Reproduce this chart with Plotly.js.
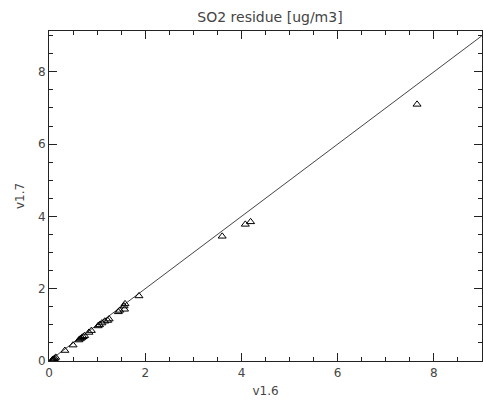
<!DOCTYPE html>
<html>
<head>
<meta charset="utf-8">
<script src="https://cdn.plot.ly/plotly-3.0.1.min.js"></script>
<style>html,body{margin:0;padding:0;background:#fff;}#chart{width:483px;height:404px;}</style>
</head>
<body>
<div id="chart"></div>
<script>
const titleText = "SO2 residue [ug/m3]";
const xLabel = "v1.6";
const yLabel = "v1.7";
const xTicks = [0, 2, 4, 6, 8];
const yTicks = [0, 2, 4, 6, 8];
const v16 = [7.65, 4.19, 4.08, 3.60, 1.87, 1.58, 1.56, 1.57, 1.47, 1.44, 1.25, 1.22, 1.16, 1.10, 1.05, 1.02, 0.88, 0.83, 0.74, 0.71, 0.68, 0.65, 0.62, 0.50, 0.33, 0.14, 0.12, 0.10, 0.09, 0.08, 0.07, 0.06];
const v17 = [7.10, 3.85, 3.78, 3.45, 1.80, 1.58, 1.52, 1.43, 1.40, 1.36, 1.16, 1.12, 1.10, 1.05, 1.00, 0.97, 0.84, 0.79, 0.70, 0.67, 0.64, 0.61, 0.58, 0.44, 0.29, 0.10, 0.07, 0.05, 0.04, 0.02, 0.03, 0.01];
const oneToOneX = [0, 9];
const oneToOneY = [0, 9];

const font = {family: "DejaVu Sans, Liberation Sans, sans-serif", size: 12, color: "#444"};
const axisCommon = {
  showgrid: false, zeroline: false, showline: true, linecolor: "#222", linewidth: 1,
  mirror: "ticks", ticks: "inside", ticklen: 8, tickwidth: 1, tickcolor: "#222",
  minor: {dtick: 0.5, ticks: "inside", ticklen: 4, tickwidth: 1, tickcolor: "#222"},
  tickfont: font, tickmode: "array"
};

const data = [
  {x: oneToOneX, y: oneToOneY, type: "scatter", mode: "lines",
   line: {color: "#444", width: 1}, hoverinfo: "skip", showlegend: false},
  {x: v16, y: v17, type: "scatter", mode: "markers",
   marker: {symbol: "triangle-up-open", size: 7, color: "#000", line: {width: 1, color: "#000"}},
   showlegend: false}
];

const layout = {
  width: 483, height: 404,
  margin: {l: 49, r: 1, t: 31, b: 42.5},
  paper_bgcolor: "#fff", plot_bgcolor: "#fff",
  font: font,
  title: {text: titleText, font: {family: font.family, size: 14, color: "#444"}, x: 0.559, xanchor: "center", y: 0.957, yanchor: "middle"},
  xaxis: Object.assign({}, axisCommon, {range: [0, 9], tickvals: xTicks, ticktext: xTicks.map(String),
    ticklabelstandoff: 1,
    title: {text: xLabel, font: font, standoff: 7}}),
  yaxis: Object.assign({}, axisCommon, {range: [0, 9.13], tickvals: yTicks, ticktext: yTicks.map(String),
    title: {text: yLabel, font: font, standoff: 10}})
};

Plotly.newPlot("chart", data, layout, {displayModeBar: false, staticPlot: true});
</script>
</body>
</html>
